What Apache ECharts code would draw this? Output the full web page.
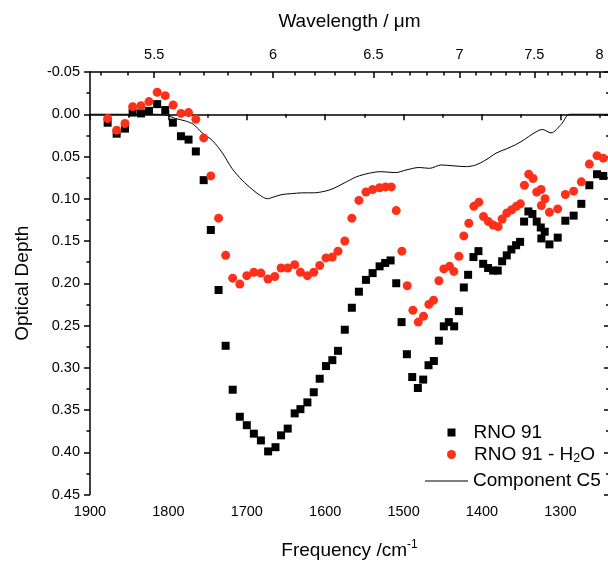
<!DOCTYPE html>
<html>
<head>
<meta charset="utf-8">
<script src="https://cdn.jsdelivr.net/npm/echarts@6/dist/echarts.min.js"></script>
<style>
html,body{margin:0;padding:0;background:#fff;}
#chart{width:608px;height:563px;}
</style>
</head>
<body>
<div id="chart"></div>
<script>
// ---- Data ----
const frequencyRNO91 = [1877.5,1866,1855.4,1845.6,1835,1824.8,1814.3,1804,1794.3,1784,1774.3,1765,1755,1745.9,1736,1727,1718,1708.9,1700,1691,1682,1672.8,1663.4,1656.3,1647.8,1638.9,1631.6,1622.7,1614.6,1607,1599,1590.9,1583.7,1575,1566,1557,1548,1539.5,1530.6,1523.5,1516.6,1509.4,1502.6,1495.8,1489,1481.8,1475,1468.2,1461.4,1455,1448.7,1442.3,1435.5,1429.5,1423.2,1417.7,1410.9,1404.5,1398.5,1392.2,1385.8,1379.9,1374.3,1368.4,1362.5,1356.5,1351.4,1346.3,1340.8,1335.7,1330.2,1325,1324.3,1320,1314,1303.4,1293.7,1283.1,1273.3,1263.1,1253.3,1245.3];
const depthRNO91 = [0.010,0.023,0.017,-0.002,-0.001,-0.004,-0.012,-0.005,0.010,0.026,0.030,0.044,0.078,0.137,0.208,0.274,0.326,0.358,0.368,0.378,0.386,0.399,0.394,0.380,0.372,0.354,0.349,0.341,0.329,0.313,0.298,0.291,0.280,0.255,0.229,0.210,0.196,0.188,0.180,0.176,0.173,0.200,0.246,0.284,0.311,0.324,0.314,0.297,0.292,0.268,0.251,0.246,0.251,0.233,0.205,0.190,0.169,0.162,0.177,0.182,0.185,0.185,0.174,0.167,0.160,0.155,0.151,0.127,0.115,0.118,0.127,0.134,0.147,0.139,0.154,0.146,0.126,0.120,0.106,0.084,0.071,0.073];

const frequencyH2O = [1877.5,1866,1855.4,1845.6,1835,1824.8,1814.3,1804,1794,1784,1774.3,1765,1755,1745.9,1736,1727,1718,1708.9,1700,1691,1682,1673,1664.3,1656.3,1647.8,1638.9,1631.6,1622.7,1614.6,1607,1599,1590.9,1583.7,1575,1566,1557,1548,1539.5,1530.6,1523,1515.7,1509.4,1502.2,1495.4,1488.1,1481.3,1474.6,1467.8,1461.8,1455,1448.7,1441.4,1435.9,1429.5,1423.2,1416.8,1410.4,1404,1398.1,1391.8,1385.8,1379.4,1374.3,1368.4,1362,1356.1,1351,1345.9,1340.4,1334.9,1330.2,1324.7,1324.3,1319.6,1314,1303.4,1293.7,1283.1,1273.3,1263.1,1253.3,1245.3];
const depthH2O = [0.005,0.019,0.011,-0.009,-0.010,-0.015,-0.026,-0.022,-0.011,-0.001,-0.002,0.006,0.028,0.073,0.123,0.167,0.194,0.201,0.191,0.187,0.188,0.195,0.192,0.182,0.182,0.178,0.187,0.191,0.187,0.179,0.170,0.169,0.162,0.150,0.123,0.102,0.092,0.089,0.087,0.086,0.086,0.114,0.162,0.203,0.232,0.246,0.239,0.225,0.220,0.197,0.183,0.180,0.186,0.168,0.144,0.129,0.109,0.104,0.121,0.127,0.131,0.133,0.124,0.117,0.113,0.109,0.106,0.084,0.071,0.076,0.092,0.089,0.108,0.100,0.116,0.112,0.095,0.091,0.080,0.059,0.049,0.052];

const frequencyC5 = [1900,1815,1803,1791,1778,1768,1757,1744,1731,1719,1706,1693,1683,1674,1666,1655,1643,1630,1615,1600,1590,1575,1560,1545,1530,1510,1497,1480,1467,1452,1437,1420,1408,1395,1382,1369,1357,1346,1335,1323,1312,1299,1288,1238];
const depthC5 = [0.000,0.000,0.001,0.005,0.008,0.012,0.022,0.031,0.046,0.064,0.078,0.089,0.096,0.100,0.098,0.095,0.094,0.093,0.093,0.091,0.088,0.081,0.074,0.070,0.068,0.069,0.066,0.063,0.064,0.060,0.061,0.062,0.060,0.054,0.046,0.041,0.036,0.030,0.023,0.018,0.022,0.012,0.000,0.000];

// Axis ticks
const frequencyTicks = [1900,1800,1700,1600,1500,1400,1300];
const frequencyMinorTicks = [1850,1750,1650,1550,1450,1350,1250];
const wavelengthTicks = [5.5,6,6.5,7,7.5,8];
const wavelengthMinorTicks = [5.3,5.4,5.6,5.7,5.8,5.9,6.1,6.2,6.3,6.4,6.6,6.7,6.8,6.9,7.1,7.2,7.3,7.4,7.6,7.7,7.8,7.9];
const seriesNames = ['RNO 91','RNO 91 - H2O','Component C5'];

const X_MIN = 1238, X_MAX = 1900;
const FONT = '"Liberation Sans", Arial, sans-serif';

const zip = (a,b) => a.map((v,i)=>[v,b[i]]);
const toWn = l => 10000/l;

const chart = echarts.init(document.getElementById('chart'), null, {renderer:'canvas'});

const axisLineStyle = {color:'#000', width:1.5};
const tickLine = {color:'#000', width:1.5};
const baseX = {type:'value', min:X_MIN, max:X_MAX, inverse:true, splitLine:{show:false}};
const LEG = 19;

const option = {
  animation:false,
  backgroundColor:'#fff',
  grid:{left:90, top:72, right:-1, bottom:68.5, containLabel:false, outerBoundsMode:'none'},
  xAxis:[
    Object.assign({}, baseX, {
      position:'bottom',
      axisLine:{show:true, lineStyle:axisLineStyle},
      axisTick:{show:true, inside:false, length:6, lineStyle:tickLine, customValues:frequencyTicks},
      axisLabel:{show:true, customValues:frequencyTicks, color:'#000', fontSize:14.5, fontFamily:FONT, margin:10,
        formatter: v => String(Math.round(v))},
      name:'Frequency /cm{sup|-1}', nameLocation:'middle', nameGap:44,
      nameTextStyle:{color:'#000', fontSize:19, fontFamily:FONT, lineHeight:24,
        rich:{sup:{fontSize:12, fontFamily:FONT, color:'#000', verticalAlign:'top', lineHeight:12}}}
    }),
    Object.assign({}, baseX, {
      position:'bottom',
      axisLine:{show:false},
      axisTick:{show:true, inside:false, length:3.5, lineStyle:tickLine, customValues:frequencyMinorTicks},
      axisLabel:{show:false}
    }),
    Object.assign({}, baseX, {
      position:'top',
      axisLine:{show:true, lineStyle:axisLineStyle},
      axisTick:{show:true, inside:true, length:6, lineStyle:tickLine, customValues:wavelengthTicks.map(toWn)},
      axisLabel:{show:true, customValues:wavelengthTicks.map(toWn), color:'#000', fontSize:14.5, fontFamily:FONT, margin:10,
        formatter: v => String(Math.round(10000/v*10)/10)},
      name:'Wavelength / μm', nameLocation:'middle', nameGap:41,
      nameTextStyle:{color:'#000', fontSize:19, fontFamily:FONT}
    }),
    Object.assign({}, baseX, {
      position:'top',
      axisLine:{show:false},
      axisTick:{show:true, inside:true, length:3.5, lineStyle:tickLine, customValues:wavelengthMinorTicks.map(toWn)},
      axisLabel:{show:false}
    })
  ],
  yAxis:[
    {
      type:'value', position:'left', inverse:true, min:-0.05, max:0.45, interval:0.05,
      splitLine:{show:false},
      axisLine:{show:true, lineStyle:axisLineStyle},
      axisTick:{show:true, inside:false, length:6, lineStyle:tickLine},
      minorTick:{show:true, splitNumber:2, length:3.5, lineStyle:tickLine},
      axisLabel:{color:'#000', fontSize:14.5, fontFamily:FONT, margin:10, formatter:v=>v.toFixed(2)},
      name:'Optical Depth', nameLocation:'middle', nameGap:58,
      nameTextStyle:{color:'#000', fontSize:19, fontFamily:FONT}
    },
    {
      type:'value', position:'right', inverse:true, min:-0.05, max:0.45, interval:0.05,
      splitLine:{show:false},
      axisLine:{show:true, lineStyle:axisLineStyle},
      axisTick:{show:true, inside:true, length:5, lineStyle:tickLine},
      minorTick:{show:true, splitNumber:2, length:3, lineStyle:tickLine},
      axisLabel:{show:false}
    }
  ],
  legend:[
    {data:[{name:seriesNames[0], icon:'rect'}], left:442.5, top:418, itemWidth:8, itemHeight:8, itemGap:0,
     formatter: n => '{a|' + n + '}',
     textStyle:{color:'#000', fontSize:LEG, fontFamily:FONT,
       rich:{a:{fontSize:LEG, fontFamily:FONT, color:'#000', padding:[0,0,0,13]}}}},
    {data:[{name:seriesNames[1], icon:'circle'}], left:442, top:440, itemWidth:9, itemHeight:9, itemGap:0,
     formatter: () => '{a|RNO 91 - H}{s|2}{b|O}',
     textStyle:{color:'#000', fontSize:LEG, fontFamily:FONT,
       rich:{a:{fontSize:LEG, fontFamily:FONT, color:'#000', lineHeight:22, padding:[0,0,0,13]},
             b:{fontSize:LEG, fontFamily:FONT, color:'#000', lineHeight:22},
             s:{fontSize:12.5, fontFamily:FONT, color:'#000', lineHeight:12, verticalAlign:'bottom'}}}},
    {data:[{name:seriesNames[2], icon:'path://M0,0H43V1H0Z'}], left:420, top:466.5, itemWidth:43, itemHeight:1.2, itemGap:0,
     itemStyle:{color:'#000', borderWidth:0},
     textStyle:{color:'#000', fontSize:LEG, fontFamily:FONT}}
  ],
  series:[
    {
      name:seriesNames[2], type:'line', xAxisIndex:0, yAxisIndex:0,
      data:zip(frequencyC5, depthC5), symbol:'none', smooth:0.3,
      lineStyle:{color:'#000', width:1}, itemStyle:{color:'#000'}, z:1
    },
    {
      name:seriesNames[0], type:'scatter', xAxisIndex:0, yAxisIndex:0,
      data:zip(frequencyRNO91, depthRNO91), symbol:'rect', symbolSize:8,
      itemStyle:{color:'#000', opacity:1}, z:2
    },
    {
      name:seriesNames[1], type:'scatter', xAxisIndex:0, yAxisIndex:0,
      data:zip(frequencyH2O, depthH2O), symbol:'circle', symbolSize:9,
      itemStyle:{color:'#ff3019', opacity:1}, z:3
    }
  ]
};
chart.setOption(option);
</script>
</body>
</html>
